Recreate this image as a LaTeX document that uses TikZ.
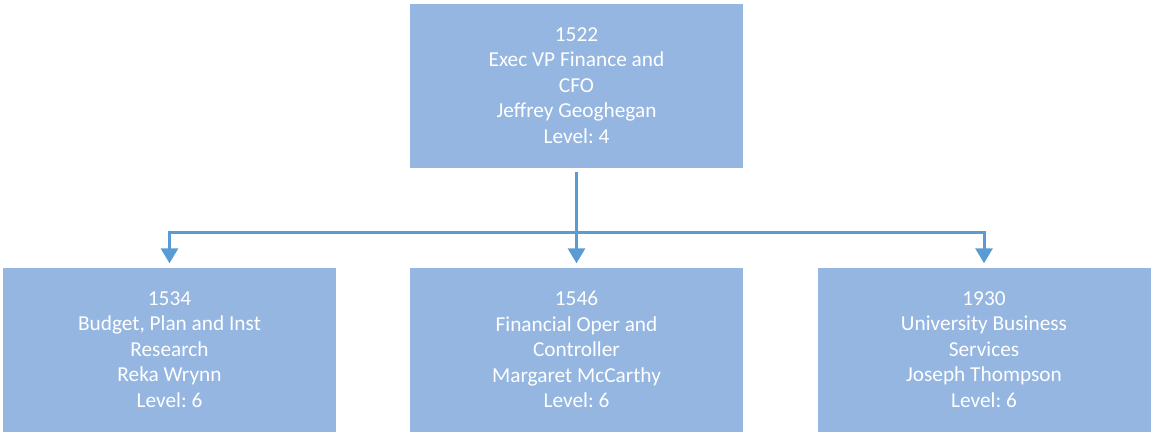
\documentclass[tikz,border=0pt]{standalone}
\usepackage{fontspec}
\setmainfont{Carlito}
\usetikzlibrary{arrows.meta}
\definecolor{boxfill}{HTML}{94B6E0}
\definecolor{linec}{HTML}{5B9BD5}
\tikzset{
  orgbox/.style={draw=none, fill=boxfill, minimum width=333pt, minimum height=164pt, inner sep=0pt,
    align=center, text=white, font=\fontsize{21.3}{25.6}\selectfont\frenchspacing},
  conn/.style={draw=linec, line width=3pt, line join=miter, shorten <=4pt, shorten >=4pt,
    -{Triangle[width=17pt,length=15pt]}}
}
\begin{document}
\begin{tikzpicture}[x=1pt,y=-1pt]
\useasboundingbox (0,0) rectangle (1151,432);
\node[orgbox] (top) at (576.5,85.5) {1522\\Exec VP Finance and\\CFO\\Jeffrey Geoghegan\\Level: 4};
\node[orgbox] (b1) at (169.5,349.5) {1534\\Budget, Plan and Inst\\Research\\Reka Wrynn\\Level: 6};
\node[orgbox] (b2) at (576.5,349.5) {1546\\Financial Oper and\\Controller\\Margaret McCarthy\\Level: 6};
\node[orgbox] (b3) at (984,349.5) {1930\\University Business\\Services\\Joseph Thompson\\Level: 6};
\coordinate (bus) at (576.5,232.5);
\draw[conn] (top.south) -- (b2.north);
\draw[conn, shorten <=0pt] (b2.north |- bus) -| (b1.north);
\draw[conn, shorten <=0pt] (b2.north |- bus) -| (b3.north);
\end{tikzpicture}
\end{document}
